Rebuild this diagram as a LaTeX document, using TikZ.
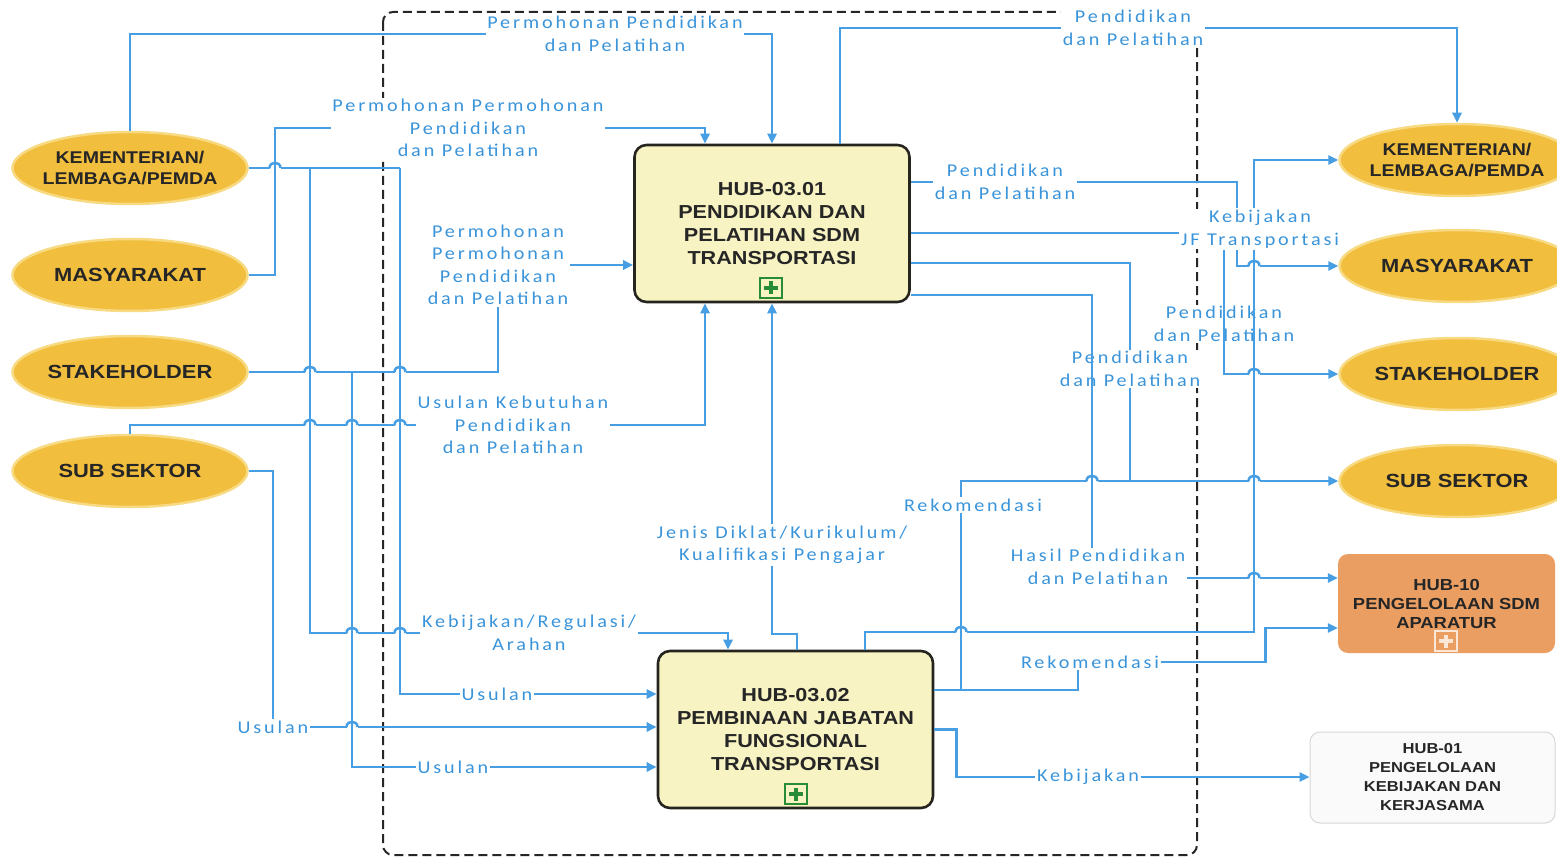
\documentclass[tikz,border=0pt]{standalone}
\usepackage{fontspec}
\setmainfont{Carlito}
\newfontfamily\lblfont{Carlito}[LetterSpace=16,FakeStretch=1.12]
\newfontfamily\boxfont{Liberation Sans}[FakeStretch=1.15]
\usetikzlibrary{shapes.geometric,arrows.meta,calc,positioning}
\definecolor{lineblue}{RGB}{72,158,226}
\definecolor{txtblue}{RGB}{58,148,218}
\definecolor{gold}{RGB}{241,190,62}
\definecolor{goldrim}{RGB}{248,218,130}
\definecolor{hubfill}{RGB}{248,243,195}
\definecolor{hubline}{RGB}{38,36,30}
\definecolor{plusgreen}{RGB}{40,140,55}
\definecolor{orangebox}{RGB}{234,158,98}
\definecolor{greyline}{RGB}{215,215,215}
\tikzset{
  flow/.style={draw=lineblue,line width=2.5pt},
  flowarr/.style={flow,-{Triangle[length=10pt,width=9pt]}},
  lbl/.style={font=\lblfont\fontsize{18}{22.5}\selectfont,text=txtblue,fill=white,inner sep=1.5pt,align=center},
  ell/.style={ellipse,fill=gold,draw=goldrim,line width=2.5pt,minimum width=235pt,minimum height=72pt,inner xsep=-12pt,inner ysep=0pt,align=center,text=black!85,font=\boxfont\bfseries\fontsize{17}{21}\selectfont},
  ellbig/.style={ell,font=\boxfont\bfseries\fontsize{19}{21}\selectfont},
  hub/.style={draw=hubline,line width=2.6pt,fill=hubfill,rounded corners=12pt,minimum width=275pt,minimum height=157pt,align=center,text=black!85,font=\boxfont\bfseries\fontsize{18.8}{22.8}\selectfont},
  hubten/.style={fill=orangebox,rounded corners=10pt,minimum width=217pt,minimum height=99pt,align=center,text=black!85,font=\boxfont\bfseries\fontsize{16}{19}\selectfont},
  hubone/.style={draw=greyline,line width=1pt,fill=black!2,rounded corners=10pt,minimum width=245pt,minimum height=91pt,align=center,text=black!85,font=\boxfont\bfseries\fontsize{14.4}{19}\selectfont},
  plusbox/.style={draw=#1,line width=1.6pt,minimum width=22pt,minimum height=20pt,inner sep=0pt,
    path picture={\draw[#1,line width=3.5pt] ([xshift=4pt]path picture bounding box.west) -- ([xshift=-4pt]path picture bounding box.east)
      ([yshift=-3.5pt]path picture bounding box.north) -- ([yshift=3.5pt]path picture bounding box.south);}},
}
\begin{document}
\begin{tikzpicture}[x=1pt,y=-1pt]
\useasboundingbox (0,0) rectangle (1557,858);
\fill[white] (0,0) rectangle (1557,858);
\clip (0,0) rectangle (1557,858);

\draw[black!85,line width=2pt,dash pattern=on 9pt off 5pt,rounded corners=10pt] (383,12) rectangle (1197,855);

\node[ell] (kemL) at (130,168) {KEMENTERIAN/\\LEMBAGA/PEMDA};
\node[ellbig] (masL) at (130,275) {MASYARAKAT};
\node[ellbig] (stkL) at (130,372) {STAKEHOLDER};
\node[ellbig] (subL) at (130,471) {SUB SEKTOR};
\node[ell] (kemR) at (1457,160) {KEMENTERIAN/\\LEMBAGA/PEMDA};
\node[ellbig] (masR) at (1457,266) {MASYARAKAT};
\node[ellbig] (stkR) at (1457,374) {STAKEHOLDER};
\node[ellbig] (subR) at (1457,481) {SUB SEKTOR};

\node[hub] (hub1) at (772,223.5) {HUB-03.01\\PENDIDIKAN DAN\\PELATIHAN SDM\\TRANSPORTASI};
\node[plusbox=plusgreen,fill=hubfill] (plus1) at (771,288) {};
\node[hub] (hub2) at (795.5,729.5) {HUB-03.02\\PEMBINAAN JABATAN\\FUNGSIONAL\\TRANSPORTASI};
\node[plusbox=plusgreen,fill=hubfill] (plus2) at (796,794) {};
\node[hubten] (hub10) at (1446.5,603.5) {HUB-10\\PENGELOLAAN SDM\\APARATUR};
\node[plusbox=white!75!orangebox] (plus10) at (1446,641) {};
\node[hubone] (hub01) at (1432.5,777.5) {HUB-01\\PENGELOLAAN\\KEBIJAKAN DAN\\KERJASAMA};

\node[lbl] (lPermA) at (615,34) {Permohonan Pendidikan\\dan Pelatihan};
\node[lbl] (lPermB) at (468,128) {Permohonan Permohonan\\Pendidikan\\dan Pelatihan};
\node[lbl] (lPermC) at (498,265) {Permohonan\\Permohonan\\Pendidikan\\dan Pelatihan};
\node[lbl] (lUsulKeb) at (513,425) {Usulan Kebutuhan\\Pendidikan\\dan Pelatihan};
\node[lbl] (lKebReg) at (529,633) {Kebijakan/Regulasi/\\Arahan};
\node[lbl] (lUsulA) at (497,694) {Usulan};
\node[lbl] (lUsulB) at (273,727) {Usulan};
\node[lbl] (lUsulC) at (453,767) {Usulan};
\node[lbl] (lJenis) at (782,545) {Jenis Diklat/Kurikulum/\\Kualifikasi Pengajar};
\node[lbl] (lRekA) at (973,505) {Rekomendasi};
\node[lbl] (lRekB) at (1090,662) {Rekomendasi};
\node[lbl] (lKeb) at (1088,777) {Kebijakan};
\node[lbl] (lHasil) at (1098,567) {Hasil Pendidikan\\dan Pelatihan};
\node[lbl] (lPendA) at (1133,28) {Pendidikan\\dan Pelatihan};
\node[lbl] (lPendB) at (1005,182) {Pendidikan\\dan Pelatihan};
\node[lbl] (lJF) at (1260,229) {Kebijakan\\JF Transportasi};
\node[lbl] (lPendC) at (1224,324) {Pendidikan\\dan Pelatihan};
\node[lbl] (lPendD) at (1130,369) {Pendidikan\\dan Pelatihan};

\coordinate (k310) at (310,168);
\coordinate (k400) at (400,168);
\coordinate (jm) at (275,275);
\coordinate (s352) at (352,372);
\coordinate (c705) at (705,0);
\coordinate (c728) at (728,0);
\coordinate (c797) at (797,0);
\coordinate (c840) at (840,0);
\coordinate (c865) at (865,0);
\coordinate (c1078) at (1078,0);
\coordinate (c1092) at (1092,0);
\coordinate (c1224) at (1224,0);
\coordinate (c1237) at (1237,0);
\coordinate (r233) at (0,233);
\coordinate (r263) at (0,263);
\coordinate (r295) at (0,295);
\coordinate (r628) at (0,628);
\coordinate (r634) at (0,634);
\coordinate (r690) at (0,690);
\coordinate (j961) at (961,690);
\coordinate (j1254) at (1254,632);

\draw[flow] (kemL.north) |- (lPermA.west);
\draw[flowarr] (lPermA.east) -| (hub1.north);
\draw[flow] (masL.east) -- (jm) |- (lPermB.west);
\draw[flowarr] (lPermB.east) -| (c705 |- hub1.north);
\draw[flow] (kemL.east) -- (k400);
\draw[flow] (k310) |- (lKebReg.west);
\draw[flowarr] (lKebReg.east) -| (c728 |- hub2.north);
\draw[flow] (k400) |- (lUsulA.west);
\draw[flowarr] (lUsulA.east) -- (lUsulA.east -| hub2.west);
\draw[flow] (stkL.east) -| (lPermC.south);
\draw[flowarr] (lPermC.east) -- (lPermC.east -| hub1.west);
\draw[flow] (s352) |- (lUsulC.west);
\draw[flowarr] (lUsulC.east) -- (lUsulC.east -| hub2.west);
\draw[flow] (subL.north) |- (lUsulKeb.west);
\draw[flowarr] (lUsulKeb.east) -| (c705 |- hub1.south);
\draw[flow] (subL.east) -| (lUsulB.north);
\draw[flowarr] (lUsulB.east) -- (lUsulB.east -| hub2.west);

\draw[flowarr] (lJenis.north -| hub1.south) -- (hub1.south);
\draw[flow] (c797 |- hub2.north) -- (c797 |- r634) -| (lJenis.south -| hub1.south);
\draw[flow] (c865 |- hub2.north) |- (j1254) -- (j1254 |- lJF.south);
\draw[flowarr] (j1254 |- lJF.north) |- (kemR.west);
\draw[flow] (hub2.east |- r690) -| (lRekB.south -| c1078);
\draw[flow] (j961) -- (j961 |- lRekA.south);
\draw[flowarr] (j961 |- lRekA.north) |- (subR.west);
\draw[flowarr] (lRekB.east) -- ++(105,0) |- (hub10.west |- r628);
\draw[flow] (hub2.east) -- ++(22,0) |- (lKeb.west);
\draw[flowarr] (lKeb.east) -- (lKeb.east -| hub01.west);

\draw[flow] (c840 |- hub1.north) |- (lPendA.west);
\draw[flowarr] (lPendA.east) -| (kemR.north);
\draw[flow] (hub1.east |- lPendB.west) -- (lPendB.west);
\draw[flow] (lPendB.east) -| (c1237 |- lJF.north);
\draw[flow] (hub1.east |- r233) -- (lJF.west |- r233);
\draw[flowarr] (c1237 |- lJF.south) |- (masR.west);
\draw[flowarr] (c1224 |- lJF.south) |- (stkR.west);
\draw[flow] (hub1.east |- r263) -| (lPendD.north);
\draw[flow] (lPendD.south) -- (lPendD.south |- subR.west);
\draw[flow] (hub1.east |- r295) -| (c1092 |- lHasil.north);
\draw[flowarr] ([yshift=-11pt]lHasil.east) -- ([yshift=-11pt]lHasil.east -| hub10.west);

\foreach \hx/\hy in {275/168,310/372,400/372,310/425,352/425,400/425,352/633,400/633,352/727,961/632,1092/481,1254/481,1254/578,1254/374,1254/266}{
  \fill[white] (\hx-5.5,\hy-2) rectangle (\hx+5.5,\hy+2);
  \draw[flow] (\hx,\hy-6) -- (\hx,\hy+6);
  \draw[flow] (\hx-5.5,\hy) .. controls (\hx-5.5,\hy-7) and (\hx+5.5,\hy-7) .. (\hx+5.5,\hy);
}
\end{tikzpicture}
\end{document}
